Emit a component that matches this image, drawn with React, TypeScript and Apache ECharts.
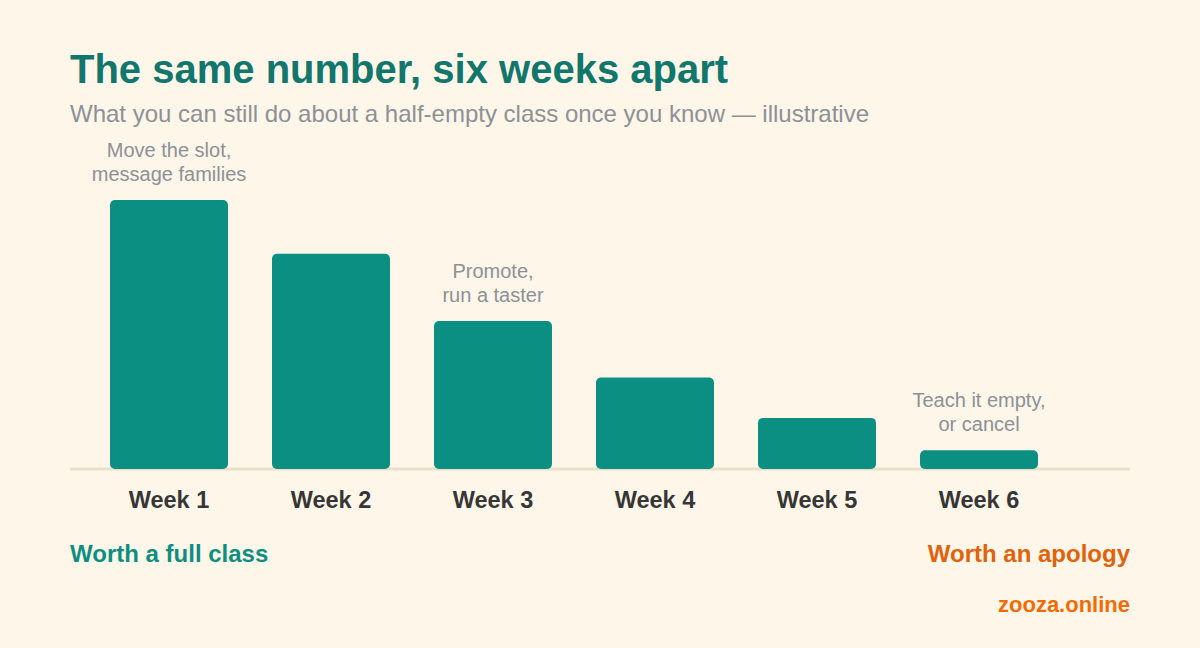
import React, { useEffect, useRef } from "react";
import * as echarts from "echarts";

const weeks = ["Week 1", "Week 2", "Week 3", "Week 4", "Week 5", "Week 6"];
const values = [100, 80, 55, 34, 19, 7];
const notes = [
  "Move the slot,\nmessage families",
  "",
  "Promote,\nrun a taster",
  "",
  "",
  "Teach it empty,\nor cancel",
];

const FONT = "'Liberation Sans', Arial, Helvetica, sans-serif";
const TEAL = "#0B8F82";

const App: React.FC = () => {
  const chartRef = useRef<HTMLDivElement>(null);

  useEffect(() => {
    if (!chartRef.current) return;
    const chart = echarts.init(chartRef.current, null, { renderer: "svg" });

    const option: echarts.EChartsOption = {
      animation: false,
      backgroundColor: "#FEF6E9",
      textStyle: { fontFamily: FONT },
      grid: { left: 88, right: 140, top: 200, bottom: 179 },
      xAxis: {
        type: "category",
        data: weeks,
        axisLine: { show: false },
        axisTick: { show: false },
        axisLabel: {
          color: "#363636",
          fontSize: 23.5,
          fontWeight: "bold",
          fontFamily: FONT,
          margin: 19,
        },
      },
      yAxis: {
        type: "value",
        min: 0,
        max: 100,
        show: false,
        splitLine: { show: false },
      },
      graphic: [
        {
          type: "line",
          z: 0,
          shape: { x1: 70, y1: 469, x2: 1130, y2: 469 },
          style: { stroke: "#E9E0C9", lineWidth: 3 },
        },
        {
          type: "text",
          x: 70,
          y: 69,
          style: {
            text: "The same number, six weeks apart",
            fill: "#11766B",
            font: `bold 40px ${FONT}`,
            verticalAlign: "middle",
          },
        },
        {
          type: "text",
          x: 70,
          y: 113,
          style: {
            text: "What you can still do about a half-empty class once you know — illustrative",
            fill: "#8C9196",
            font: `24px ${FONT}`,
            verticalAlign: "middle",
          },
        },
        {
          type: "text",
          x: 70,
          y: 553,
          style: {
            text: "Worth a full class",
            fill: "#0E8E80",
            font: `bold 24px ${FONT}`,
            verticalAlign: "middle",
          },
        },
        {
          type: "text",
          x: 1130,
          y: 553,
          style: {
            text: "Worth an apology",
            fill: "#E2620A",
            font: `bold 24px ${FONT}`,
            align: "right",
            verticalAlign: "middle",
          },
        },
        {
          type: "text",
          x: 1130,
          y: 604,
          style: {
            text: "zooza.online",
            fill: "#F26B00",
            font: `bold 22px ${FONT}`,
            align: "right",
            verticalAlign: "middle",
          },
        },
      ],
      series: [
        {
          type: "bar",
          z: 2,
          barWidth: 118,
          itemStyle: { color: TEAL, borderRadius: 5 },
          data: values.map((v, i) => ({
            value: v,
            label: {
              show: notes[i] !== "",
              position: "top",
              distance: 14,
              formatter: notes[i],
              color: "#8C9196",
              fontSize: 20,
              lineHeight: 24,
              fontFamily: FONT,
            },
          })),
        },
      ],
    };

    chart.setOption(option);
    return () => chart.dispose();
  }, []);

  return (
    <div
      ref={chartRef}
      style={{ position: "absolute", left: 0, top: 0, width: 1200, height: 648 }}
    />
  );
};

export default App;
